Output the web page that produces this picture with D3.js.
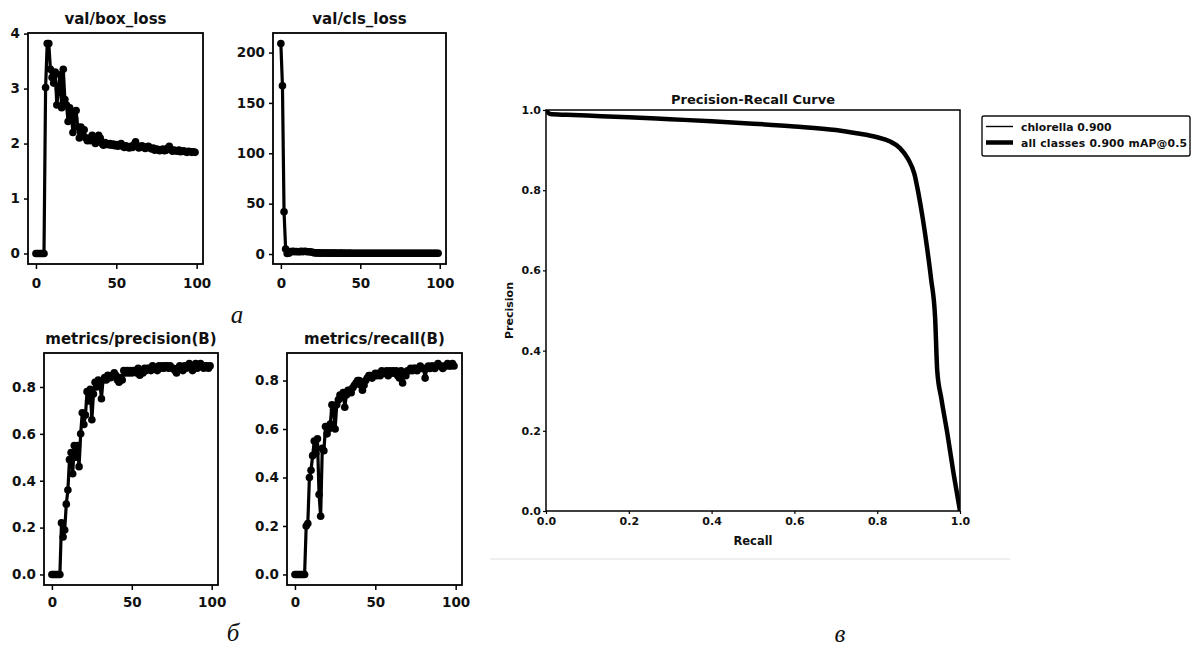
<!DOCTYPE html>
<html><head><meta charset="utf-8">
<script src="https://cdn.jsdelivr.net/npm/d3@7"></script>
<style>
html,body{margin:0;padding:0;background:#fff;}
svg{display:block;}
</style></head>
<body>
<svg id="chart" width="1192" height="648"></svg>
<script>
// ---------------- DATA ----------------
const epochs = d3.range(0, 100);
const boxLoss = [0,0,0,0,0,0,3.02,3.82,3.82,3.35,3.2,3.1,3.3,2.7,3.0,3.25,2.65,3.35,2.8,2.7,
  2.4,2.65,2.55,2.2,2.45,2.6,2.3,2.1,2.3,2.15,2.25,2.1,2.05,2.1,2.05,2.15,2.1,2.0,2.05,2.15,
  2.1,2.0,1.97,2.02,2.0,1.98,2.0,1.97,1.99,1.96,1.98,1.95,1.97,2.0,1.95,1.93,1.96,1.94,1.92,1.95,
  1.93,1.98,2.03,1.96,1.92,1.94,1.96,1.93,1.91,1.94,1.95,1.92,1.9,1.92,1.88,1.9,1.89,1.87,1.88,1.9,
  1.87,1.88,1.92,1.95,1.89,1.86,1.88,1.87,1.86,1.88,1.85,1.86,1.87,1.85,1.84,1.86,1.85,1.84,1.85,1.84];
const clsLoss = [209,167,42,5,0.5,0.8,2.5,2.4,2.6,2.3,2.5,2.2,2.4,2.6,2.3,2.7,2.5,2.2,2.3,2.0,
  1.8,1.2,1.1,1.0,1.1,0.9,1.0,1.0,0.9,1.0,0.9,0.9,1.0,0.9,0.9,0.9,0.8,0.9,0.9,0.8,
  0.9,0.8,0.8,0.9,0.8,0.8,0.8,0.8,0.8,0.8,0.8,0.8,0.8,0.8,0.8,0.8,0.8,0.8,0.8,0.8,
  0.8,0.8,0.8,0.8,0.8,0.8,0.8,0.8,0.8,0.8,0.8,0.8,0.8,0.8,0.8,0.8,0.8,0.8,0.8,0.8,
  0.8,0.8,0.8,0.8,0.8,0.8,0.8,0.8,0.8,0.8,0.8,0.8,0.8,0.8,0.8,0.8,0.8,0.8,0.8,0.8];
const precisionB = [0,0,0,0,0,0,0.22,0.16,0.19,0.30,0.36,0.49,0.52,0.43,0.55,0.50,0.55,0.46,0.60,0.69,
  0.64,0.68,0.78,0.74,0.79,0.66,0.77,0.82,0.80,0.83,0.82,0.75,0.83,0.84,0.83,0.85,0.84,0.84,0.85,0.86,
  0.85,0.83,0.82,0.84,0.83,0.87,0.86,0.87,0.86,0.87,0.86,0.87,0.87,0.86,0.88,0.85,0.87,0.86,0.88,0.87,
  0.88,0.88,0.87,0.89,0.88,0.88,0.87,0.89,0.88,0.89,0.88,0.89,0.89,0.88,0.89,0.88,0.88,0.87,0.86,0.88,
  0.89,0.88,0.87,0.89,0.88,0.89,0.90,0.88,0.87,0.89,0.90,0.88,0.89,0.90,0.89,0.88,0.89,0.89,0.88,0.89];
const recallB = [0,0,0,0,0,0,0,0.20,0.21,0.40,0.43,0.49,0.55,0.50,0.56,0.33,0.24,0.52,0.51,0.61,
  0.58,0.60,0.62,0.70,0.68,0.60,0.70,0.72,0.74,0.73,0.75,0.69,0.74,0.76,0.76,0.75,0.77,0.78,0.79,0.80,
  0.80,0.78,0.76,0.78,0.80,0.81,0.82,0.82,0.81,0.82,0.83,0.82,0.83,0.82,0.84,0.83,0.83,0.84,0.82,0.84,
  0.83,0.84,0.83,0.84,0.82,0.81,0.84,0.79,0.83,0.82,0.84,0.84,0.85,0.84,0.85,0.85,0.84,0.85,0.86,0.85,
  0.85,0.81,0.85,0.86,0.85,0.86,0.86,0.85,0.86,0.87,0.86,0.86,0.85,0.86,0.86,0.87,0.86,0.86,0.87,0.86];

const prRecall    = [0,0.01,0.05,0.1,0.2,0.3,0.4,0.5,0.6,0.7,0.75,0.8,0.83,0.855,0.875,0.89,0.9,0.91,0.92,0.93,0.94,0.945,0.955,0.97,0.985,1.0];
const prPrecision = [1.0,0.99,0.988,0.986,0.982,0.977,0.972,0.966,0.959,0.950,0.942,0.932,0.922,0.905,0.877,0.84,0.79,0.73,0.66,0.58,0.48,0.35,0.28,0.19,0.09,0.0];

const smallTitles = ["val/box_loss","val/cls_loss","metrics/precision(B)","metrics/recall(B)"];
const xTicksSmall = [0,50,100];
const yTicksBox = [0,1,2,3,4];
const yTicksCls = [0,50,100,150,200];
const yTicksMetric = [0,0.2,0.4,0.6,0.8];
const prTicks = [0,0.2,0.4,0.6,0.8,1.0];
const legendLabels = ["chlorella 0.900","all classes 0.900 mAP@0.5"];
const captions = ["а","б","в"];

// ---------------- DRAW ----------------
const svg = d3.select("#chart");
const FONT = "DejaVu Sans";

function smallPanel(box, title, values, yTicks, yFmt, xPadTxt) {
  const g = svg.append("g");
  const xMin = 0, xMax = 99, xPad = (xMax - xMin) * 0.05;
  const yMin = d3.min(values), yMax = d3.max(values), yPad = (yMax - yMin) * 0.05;
  const x = d3.scaleLinear().domain([xMin - xPad, xMax + xPad]).range([box.x0, box.x1]);
  const y = d3.scaleLinear().domain([yMin - yPad, yMax + yPad]).range([box.y1, box.y0]);

  const line = d3.line().x((d,i)=>x(epochs[i])).y(d=>y(d));
  g.append("path").datum(values).attr("d", line)
    .attr("fill","none").attr("stroke","#000").attr("stroke-width",3.2).attr("stroke-linejoin","round");
  g.selectAll("circle").data(values).join("circle")
    .attr("cx",(d,i)=>x(epochs[i])).attr("cy",d=>y(d)).attr("r",3.8).attr("fill","#000");

  g.append("rect").attr("x",box.x0).attr("y",box.y0)
    .attr("width",box.x1-box.x0).attr("height",box.y1-box.y0)
    .attr("fill","none").attr("stroke","#000").attr("stroke-width",1.8);

  const xa = g.append("g").attr("transform",`translate(0,${box.y1})`)
    .call(d3.axisBottom(x).tickValues(xTicksSmall).tickSize(5).tickPadding(xPadTxt).tickFormat(d3.format("d")));
  const ya = g.append("g").attr("transform",`translate(${box.x0},0)`)
    .call(d3.axisLeft(y).tickValues(yTicks).tickSize(4).tickPadding(4).tickFormat(yFmt));
  [xa,ya].forEach(a=>{
    a.select(".domain").remove();
    a.selectAll("line").attr("stroke","#000").attr("stroke-width",1.5);
    a.selectAll("text").attr("font-family",FONT).attr("font-weight","bold")
      .attr("font-size",13.5).attr("fill","#111");
  });
  g.append("text").attr("x",(box.x0+box.x1)/2).attr("y",box.y0-9)
    .attr("text-anchor","middle").attr("font-family",FONT).attr("font-weight","bold")
    .attr("font-size",15).attr("fill","#111").text(title);
}

smallPanel({x0:28,x1:203,y0:33,y1:264}, smallTitles[0], boxLoss, yTicksBox, d3.format("d"), 9);
smallPanel({x0:273,x1:446,y0:33,y1:264}, smallTitles[1], clsLoss, yTicksCls, d3.format("d"), 9);
smallPanel({x0:44,x1:218,y0:353,y1:585}, smallTitles[2], precisionB, yTicksMetric, d3.format(".1f"), 7);
smallPanel({x0:287,x1:462,y0:353,y1:585}, smallTitles[3], recallB, yTicksMetric, d3.format(".1f"), 7);

// PR curve
(function(){
  const box = {x0:546,x1:960,y0:110,y1:511};
  const g = svg.append("g");
  const x = d3.scaleLinear().domain([0,1]).range([box.x0,box.x1]);
  const y = d3.scaleLinear().domain([0,1]).range([box.y1,box.y0]);
  const data = prRecall.map((r,i)=>[r, prPrecision[i]]);
  const line = d3.line().x(d=>x(d[0])).y(d=>y(d[1])).curve(d3.curveMonotoneX);
  g.append("clipPath").attr("id","prclip").append("rect")
    .attr("x",box.x0).attr("y",box.y0).attr("width",box.x1-box.x0).attr("height",box.y1-box.y0);
  g.append("path").datum(data).attr("d",line).attr("clip-path","url(#prclip)")
    .attr("fill","none").attr("stroke","#000").attr("stroke-width",4.5);
  g.append("path").datum(data).attr("d",line).attr("clip-path","url(#prclip)")
    .attr("fill","none").attr("stroke","#000").attr("stroke-width",1.2);
  g.append("rect").attr("x",box.x0).attr("y",box.y0)
    .attr("width",box.x1-box.x0).attr("height",box.y1-box.y0)
    .attr("fill","none").attr("stroke","#000").attr("stroke-width",1.5);
  const xa = g.append("g").attr("transform",`translate(0,${box.y1})`)
    .call(d3.axisBottom(x).tickValues(prTicks).tickSize(3).tickPadding(3).tickFormat(d3.format(".1f")));
  const ya = g.append("g").attr("transform",`translate(${box.x0},0)`)
    .call(d3.axisLeft(y).tickValues(prTicks).tickSize(3).tickPadding(2).tickFormat(d3.format(".1f")));
  [xa,ya].forEach(a=>{
    a.select(".domain").remove();
    a.selectAll("line").attr("stroke","#000").attr("stroke-width",1.2);
    a.selectAll("text").attr("font-family",FONT).attr("font-weight","bold")
      .attr("font-size",11).attr("fill","#111");
  });
  g.append("text").attr("x",(box.x0+box.x1)/2).attr("y",box.y0-6)
    .attr("text-anchor","middle").attr("font-family",FONT).attr("font-weight","bold")
    .attr("font-size",13).attr("fill","#111").text("Precision-Recall Curve");
  g.append("text").attr("x",(box.x0+box.x1)/2).attr("y",box.y1+34)
    .attr("text-anchor","middle").attr("font-family",FONT).attr("font-weight","bold")
    .attr("font-size",11.5).attr("fill","#111").text("Recall");
  g.append("text").attr("transform",`translate(${box.x0-33},${(box.y0+box.y1)/2}) rotate(-90)`)
    .attr("text-anchor","middle").attr("font-family",FONT).attr("font-weight","bold")
    .attr("font-size",11).attr("fill","#111").text("Precision");

  // legend
  const lg = svg.append("g");
  lg.append("rect").attr("x",982).attr("y",116).attr("width",208).attr("height",40)
    .attr("rx",2).attr("fill","#fff").attr("stroke","#111").attr("stroke-width",1.4);
  const widths = [1.4,4.5];
  legendLabels.forEach((t,i)=>{
    const yy = 126.5 + i*16;
    lg.append("line").attr("x1",986).attr("x2",1013).attr("y1",yy).attr("y2",yy)
      .attr("stroke","#000").attr("stroke-width",widths[i]);
    lg.append("text").attr("x",1021).attr("y",yy+4).attr("font-family",FONT)
      .attr("font-weight","bold").attr("font-size",10.8).attr("fill","#111")
      .attr("textLength", i===1 ? 166 : null).text(t);
  });
})();

// separator
svg.append("line").attr("x1",490).attr("x2",1010).attr("y1",559).attr("y2",559)
  .attr("stroke","#dedede").attr("stroke-width",1);

// captions
const capPos = [[237,323],[233,641],[840,642]];
captions.forEach((c,i)=>{
  svg.append("text").attr("x",capPos[i][0]).attr("y",capPos[i][1]).attr("text-anchor","middle")
    .attr("font-family","Liberation Serif").attr("font-style","italic")
    .attr("font-size",25).attr("fill","#111").text(c);
});
</script>
</body></html>
